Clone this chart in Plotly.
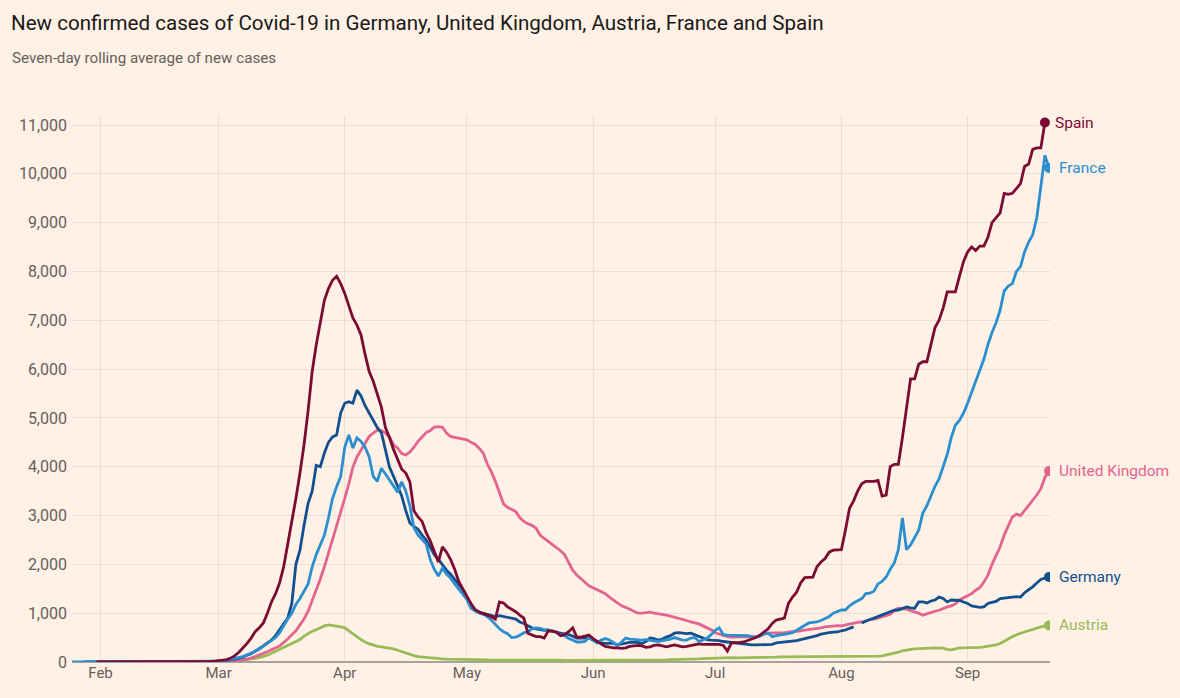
import pandas as pd
import plotly.graph_objects as go

# ---------------- data (seven-day rolling average of new cases) ----------------
spain_start = "2020-01-31"
spain = [0] * 26 + [
    2, 5, 10, 20, 25, 35, 50, 80, 130, 200,
    280, 380, 490, 620, 700, 800, 1000, 1230, 1400, 1620,
    1950, 2400, 2850, 3350, 3870, 4450, 5150, 5950, 6500, 7000,
    7410, 7650, 7820, 7900, 7750, 7550, 7300, 7050, 6900, 6700,
    6300, 5950, 5750, 5500, 5220, 4800, 4600, 4350, 4150, 3950,
    3870, 3690, 3100, 2970, 2880, 2650, 2480, 2250, 2050, 2360,
    2250, 2100, 1900, 1650, 1500, 1330, 1200, 1065, 1020, 990,
    960, 930, 880, 1230, 1210, 1130, 1080, 1030, 960, 900,
    590, 560, 520, 520, 490, 640, 630, 615, 540, 560,
    620, 700, 510, 510, 530, 550, 480, 420, 370, 320,
    300, 290, 290, 280, 290, 320, 330, 340, 330, 300,
    310, 340, 350, 330, 310, 330, 350, 330, 310, 320,
    340, 350, 370, 360, 360, 370, 370, 360, 340, 225,
    390, 390, 400, 410, 440, 470, 500, 550, 610, 680,
    790, 860, 880, 900, 1200, 1330, 1430, 1620, 1730, 1740,
    1740, 1950, 2050, 2120, 2250, 2290, 2290, 2300, 2700, 3150,
    3300, 3500, 3650, 3700, 3700, 3700, 3720, 3400, 3420, 4000,
    4050, 4050, 4600, 5200, 5800, 5800, 6100, 6150, 6150, 6500,
    6850, 7000, 7250, 7580, 7580, 7580, 7900, 8200, 8400, 8500,
    8430, 8520, 8520, 8700, 9000, 9100, 9200, 9600, 9580, 9600,
    9700, 9800, 10150, 10200, 10500, 10530, 10530, 11050,
]

france_start = "2020-01-25"
france = [0] * 35 + [
    5, 15, 25, 40, 55, 70, 90, 110, 150, 180,
    220, 260, 320, 380, 440, 500, 600, 750, 880, 1000,
    1180, 1300, 1450, 1600, 1950, 2200, 2400, 2600, 2950, 3350,
    3590, 3800, 4400, 4650, 4380, 4590, 4520, 4400, 4200, 3800,
    3700, 3970, 3850, 3730, 3600, 3480, 3690, 3500, 3200, 2750,
    2600, 2520, 2420, 2100, 1900, 1760, 1920, 1800, 1720, 1600,
    1500, 1400, 1280, 1100, 1050, 1000, 980, 930, 860, 760,
    680, 620, 580, 500, 510, 550, 600, 620, 680, 700,
    690, 660, 650, 640, 600, 560, 540, 480, 450, 410,
    410, 420, 500, 450, 390, 450, 480, 450, 400, 330,
    400, 490, 470, 460, 450, 450, 460, 450, 430, 420,
    440, 450, 470, 500, 480, 450, 450, 490, 500, 420,
    450, 490, 560, 650, 700, 560, 550, 550, 550, 550,
    550, 540, 520, 510, 530, 570, 590, 520, 540, 550,
    560, 580, 600, 650, 700, 760, 800, 810, 820, 850,
    890, 930, 1000, 1030, 1065, 1065, 1150, 1210, 1250, 1300,
    1400, 1410, 1450, 1600, 1650, 1740, 1900, 2030, 2300, 2950,
    2300, 2400, 2550, 2700, 3050, 3200, 3400, 3600, 3750, 4000,
    4250, 4600, 4850, 4950, 5100, 5300, 5520, 5750, 5950, 6200,
    6500, 6750, 6950, 7210, 7600, 7700, 7750, 8000, 8100, 8400,
    8600, 8750, 9100, 9700, 10380, 10120,
]

germany_start = "2020-01-28"
germany = [0] * 33 + [
    10, 20, 30, 45, 60, 80, 100, 140, 170, 220,
    270, 330, 390, 450, 540, 650, 780, 900, 1200, 2000,
    2290, 2800, 3250, 3500, 4030, 4000, 4280, 4500, 4610, 4650,
    5100, 5300, 5330, 5300, 5570, 5450, 5250, 5100, 4950, 4800,
    4700, 4350, 3990, 3800, 3600, 3400, 3100, 2850, 2780, 2720,
    2600, 2500, 2350, 2200, 2100, 1980, 1880, 1800, 1700, 1600,
    1480, 1300, 1180, 1080, 1020, 1000, 980, 960, 930, 950,
    930, 920, 900, 880, 820, 790, 740, 700, 680, 660,
    650, 655, 640, 610, 590, 580, 560, 530, 490, 490,
    490, 490, 450, 420, 390, 380, 380, 380, 350, 370,
    390, 400, 400, 400, 380, 420, 490, 480, 450, 470,
    510, 540, 590, 600, 590, 580, 590, 560, 530, 490,
    460, 450, 450, 440, 420, 410, 400, 390, 370, 360,
    350, 350, 350, 350, 350, 350, 360, 390, 400, 400,
    410, 420, 440, 460, 480, 500, 510, 540, 570, 590,
    600, 610, 615, 640, 655, 690, 720, None, 800, 840,
    870, 900, 930, 960, 1000, 1030, 1060, 1065, 1100, 1130,
    1110, 1100, 1230, 1230, 1210, 1250, 1270, 1330, 1300, 1230,
    1270, 1270, 1260, 1230, 1200, 1150, 1130, 1120, 1130, 1200,
    1220, 1240, 1300, 1310, 1320, 1330, 1340, 1330, 1420, 1480,
    1540, 1620, 1690, 1720, 1740,
]

uk_start = "2020-01-31"
uk = [0] * 30 + [
    5, 8, 10, 15, 20, 30, 40, 60, 80, 110,
    140, 180, 210, 250, 290, 330, 400, 470, 560, 640,
    760, 880, 1040, 1250, 1450, 1700, 1950, 2230, 2500, 2750,
    3050, 3350, 3650, 3990, 4200, 4350, 4480, 4620, 4690, 4750,
    4740, 4690, 4600, 4450, 4380, 4270, 4240, 4300, 4400, 4520,
    4610, 4700, 4740, 4810, 4820, 4810, 4690, 4620, 4600, 4580,
    4560, 4550, 4500, 4460, 4380, 4280, 4060, 3900, 3700, 3450,
    3240, 3170, 3130, 3080, 2960, 2880, 2830, 2800, 2740, 2600,
    2530, 2470, 2410, 2350, 2280, 2200, 2050, 1880, 1780, 1700,
    1620, 1560, 1520, 1480, 1440, 1400, 1330, 1270, 1200, 1150,
    1120, 1080, 1040, 1000, 1000, 1010, 1020, 1000, 990, 970,
    960, 940, 920, 900, 880, 850, 820, 800, 780, 740,
    700, 660, 600, 570, 540, 520, 510, 510, 510, 510,
    510, 510, 520, 540, 580, 590, 590, 590, 590, 600,
    610, 615, 630, 640, 655, 665, 680, 690, 700, 720,
    730, 740, 745, 740, 760, 770, 790, 810, 820, 850,
    870, 880, 900, 920, 950, 980, 1050, 1100, 1090, 1085,
    1050, 1030, 1000, 960, 990, 1020, 1040, 1060, 1100, 1130,
    1150, 1190, 1270, 1310, 1350, 1400, 1470, 1520, 1640, 1780,
    2000, 2180, 2360, 2600, 2800, 2970, 3030, 3000, 3100, 3200,
    3300, 3420, 3550, 3780, 3910,
]

austria_start = "2020-02-26"
austria = [
    0, 0, 2, 3, 5, 8, 10, 15, 20, 30,
    35, 45, 60, 75, 90, 110, 140, 180, 220, 250,
    290, 330, 370, 410, 460, 530, 580, 630, 660, 700,
    740, 760, 750, 730, 720, 700, 640, 580, 510, 460,
    410, 370, 350, 320, 310, 300, 280, 270, 240, 210,
    180, 150, 130, 110, 100, 90, 80, 75, 70, 65,
    60, 60, 55, 55, 50, 50, 45, 45, 45, 45,
    45, 40, 40, 40, 40, 40, 40, 40, 45, 50,
    55, 50, 45, 40, 40, 40, 40, 40, 40, 35,
    35, 35, 35, 40, 40, 40, 40, 40, 35, 35,
    30, 30, 30, 35, 40, 40, 40, 40, 40, 40,
    45, 45, 45, 45, 45, 50, 50, 50, 55, 55,
    60, 60, 65, 70, 75, 75, 80, 80, 85, 85,
    90, 85, 85, 85, 90, 90, 95, 95, 100, 100,
    100, 100, 105, 105, 105, 110, 110, 110, 110, 110,
    115, 115, 115, 120, 120, 120, 120, 120, 120, 120,
    120, 115, 115, 115, 115, 115, 120, 125, 140, 160,
    180, 200, 230, 250, 260, 270, 270, 275, 280, 285,
    290, 290, 285, 260, 250, 270, 290, 290, 290, 290,
    295, 300, 310, 320, 340, 350, 380, 420, 470, 520,
    560, 590, 615, 640, 680, 700, 720, 735, 750,
]

y_ticks = list(range(0, 11001, 1000))

# draw order: bottom -> top
series = [
    ("Austria", austria_start, austria, "#98bb55"),
    ("United Kingdom", uk_start, uk, "#e2648f"),
    ("Germany", germany_start, germany, "#114f8e"),
    ("France", france_start, france, "#2b8fcf"),
    ("Spain", spain_start, spain, "#7b0b32"),
]

BG = "#fff1e5"
GRID = "#eadfd5"
TXT = "#66605c"
FONT = "Roboto"

fig = go.Figure()
for name, start, vals, col in series:
    dates = pd.date_range(start, periods=len(vals), freq="D")
    fig.add_trace(go.Scatter(
        x=dates, y=vals, mode="lines", name=name,
        line=dict(color=col, width=2.8), connectgaps=False,
        hoverinfo="skip", showlegend=False,
    ))
for name, start, vals, col in series:
    dates = pd.date_range(start, periods=len(vals), freq="D")
    fig.add_trace(go.Scatter(
        x=[dates[-1]], y=[vals[-1]], mode="markers",
        marker=dict(color=col, size=10), hoverinfo="skip", showlegend=False,
    ))
    fig.add_annotation(
        x=dates[-1], y=vals[-1], text=name, showarrow=False,
        xanchor="left", yanchor="middle", xshift=8,
        font=dict(family=FONT, size=15.5, color=col),
    )

fig.update_layout(
    width=1180, height=698,
    paper_bgcolor=BG, plot_bgcolor=BG,
    margin=dict(l=72, r=130, t=115, b=36),
    font=dict(family=FONT, color=TXT),
    title=dict(
        text="New confirmed cases of Covid-19 in Germany, United Kingdom, Austria, France and Spain",
        font=dict(family=FONT, size=20.6, color="#1a1817"),
        xref="container", x=11 / 1180, xanchor="left",
        yref="container", y=1 - 23 / 698, yanchor="middle",
    ),
    xaxis=dict(
        type="date",
        range=["2020-01-25", "2020-09-21 06:00"],
        tick0="2020-02-01", dtick="M1", tickformat="%b",
        showgrid=True, gridcolor=GRID, gridwidth=1,
        zeroline=False, showline=False, ticks="",
        tickfont=dict(family=FONT, size=15, color=TXT),
        layer="below traces",
    ),
    yaxis=dict(
        range=[0, 11205],
        tickvals=y_ticks, tickformat=",",
        showgrid=True, gridcolor=GRID, gridwidth=1,
        zeroline=True, zerolinecolor="#a8a29c", zerolinewidth=2,
        showline=False, ticks="",
        tickfont=dict(family=FONT, size=16, color=TXT),
        ticklabelstandoff=4,
        layer="below traces",
    ),
)
fig.add_annotation(
    text="Seven-day rolling average of new cases",
    xref="paper", yref="paper", x=(10 - 72) / 978, y=(662 - 58) / 547,
    xanchor="left", yanchor="middle", showarrow=False,
    font=dict(family=FONT, size=15.2, color=TXT),
)

fig.write_html(
    "out.html",
    config={"displayModeBar": False},
    post_script="document.body.style.margin='0';document.body.style.background='#fff1e5';",
)
